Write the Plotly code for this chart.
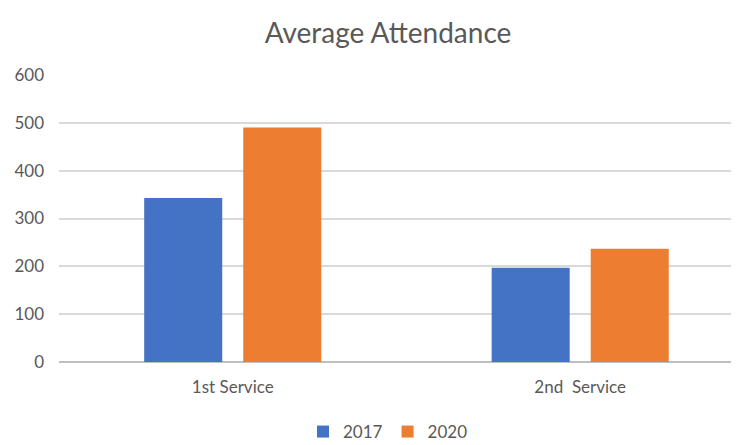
import plotly.graph_objects as go

categories = ["1st Service", "2nd\u00a0 Service"]
series_names = ["2017", "2020"]
values_2017 = [343, 197]
values_2020 = [490, 237]
y_ticks = [0, 100, 200, 300, 400, 500, 600]

colors = ["#4472C4", "#ED7D31"]
font_family = "Lato, 'Open Sans', sans-serif"
text_color = "#595959"

# the page body has an 8px default margin, so the figure is drawn 8px smaller
W, H = 731, 437

fig = go.Figure()
for name, vals, col in zip(series_names, [values_2017, values_2020], colors):
    fig.add_trace(go.Bar(x=[0, 1], y=vals, name=name, marker=dict(color=col, line=dict(width=0))))

fig.update_layout(
    width=W, height=H,
    margin=dict(l=51, r=0, t=67, b=83, autoexpand=False),
    paper_bgcolor="white", plot_bgcolor="white",
    barmode="group", bargap=0.43, bargroupgap=0.212,
    font=dict(family=font_family, color=text_color, size=17),
    title=dict(text="Average Attendance", x=380 / W, xref="container", xanchor="center",
               y=1 - 25 / H, yref="container", yanchor="middle",
               font=dict(size=28, color=text_color, family=font_family)),
    showlegend=True,
    legend=dict(orientation="h", x=380 / W, xref="container", xanchor="center",
                y=-70 / 287, yref="paper", yanchor="middle",
                font=dict(size=17, color=text_color), traceorder="normal"),
)
fig.update_xaxes(range=[-0.5, 1.457], tickmode="array", tickvals=[0, 1], ticktext=categories,
                 showgrid=False, zeroline=False, showline=False, ticks="", automargin=False,
                 ticklabelstandoff=13, tickfont=dict(size=17, color=text_color))
fig.update_yaxes(range=[0, 600], tickmode="array", tickvals=y_ticks,
                 showgrid=True, gridcolor="#D9D9D9", gridwidth=1.5,
                 zeroline=True, zerolinecolor="#BFBFBF", zerolinewidth=1.5,
                 showline=False, ticks="", ticklabelstandoff=14, automargin=False,
                 tickfont=dict(size=17, color=text_color))

fig.write_html("out.html")
